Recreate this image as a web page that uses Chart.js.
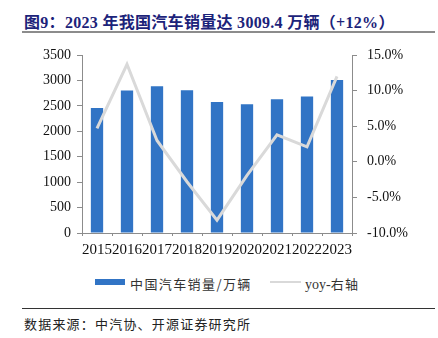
<!DOCTYPE html>
<html lang="zh">
<head>
<meta charset="UTF-8" />
<title>2023 年我国汽车销量</title>
<script src="https://cdn.jsdelivr.net/npm/chart.js"></script>
<style>
  body { margin: 0; width: 438px; height: 338px; background: #fff; position: relative; overflow: hidden; }
  .title { position: absolute; left: 24px; top: 9px; font: bold 16px "Liberation Serif", "Noto Sans CJK SC", serif; letter-spacing: 0.3px; color: #1c237a; white-space: nowrap; }
  .rule-top { position: absolute; left: 22px; top: 31px; width: 413px; height: 2px; background: #8c8c8c; }
  .rule-bottom { position: absolute; left: 22px; top: 308px; width: 413px; height: 1px; background: #333; }
  .source { position: absolute; left: 24px; top: 314px; font: 13px "Noto Sans CJK SC", sans-serif; letter-spacing: 1.2px; color: #222; white-space: nowrap; }
  #chart { position: absolute; left: 0; top: 0; }
  .legend { position: absolute; top: 274px; font: 13px "Noto Sans CJK SC", sans-serif; letter-spacing: 1.4px; color: #333; white-space: nowrap; }
  .swatch { position: absolute; }
</style>
</head>
<body>
  <div class="title">图9：2023 年我国汽车销量达 3009.4 万辆（+12%）</div>
  <div class="rule-top"></div>

  <canvas id="chart" width="438" height="272"></canvas>

  <div class="swatch" style="left:95px; top:279px; width:30px; height:6px; background:#3174c5;"></div>
  <div class="legend" style="left:130px;">中国汽车销量/万辆</div>
  <div class="swatch" style="left:270px; top:281px; width:31px; height:2px; background:#d9d9d9;"></div>
  <div class="legend" style="left:305px;"><span style="font-family:'Liberation Serif',serif; font-size:14px; letter-spacing:0;">yoy-</span>右轴</div>

  <div class="rule-bottom"></div>
  <div class="source">数据来源：中汽协、开源证券研究所</div>

<script>
  const years = ['2015', '2016', '2017', '2018', '2019', '2020', '2021', '2022', '2023'];
  const sales = [2459.8, 2802.8, 2887.9, 2808.1, 2576.9, 2531.1, 2627.5, 2686.4, 3009.4];
  const yoy = [4.7, 13.7, 3.0, -2.8, -8.2, -1.9, 3.8, 2.1, 12.0];

  const tickFont = { family: 'Liberation Serif', size: 14 };
  const axisGray = '#8c8c8c';

  new Chart(document.getElementById('chart'), {
    type: 'bar',
    data: {
      labels: years,
      datasets: [
        {
          label: '中国汽车销量/万辆',
          data: sales,
          backgroundColor: '#3174c5',
          barPercentage: 0.41,
          categoryPercentage: 1,
          yAxisID: 'y',
          order: 2
        },
        {
          type: 'line',
          label: 'yoy-右轴',
          data: yoy,
          borderColor: '#d9d9d9',
          borderWidth: 3,
          pointRadius: 0,
          tension: 0,
          fill: false,
          yAxisID: 'y1',
          order: 1
        }
      ]
    },
    options: {
      responsive: false,
      devicePixelRatio: 1,
      animation: false,
      layout: { padding: { top: 55, left: 0, right: 0, bottom: 0 } },
      plugins: {
        legend: { display: false },
        tooltip: { enabled: false }
      },
      scales: {
        x: {
          afterFit: s => { s.height = 39; },
          grid: { drawOnChartArea: false, tickLength: 3, color: axisGray },
          border: { color: axisGray },
          ticks: { font: { family: 'Liberation Serif', size: 15 }, color: '#111', padding: 5, maxRotation: 0, autoSkip: false }
        },
        y: {
          position: 'left',
          min: 0,
          max: 3500,
          afterFit: s => { s.width = 82; },
          grid: { drawOnChartArea: false, tickLength: 5, color: axisGray },
          border: { color: axisGray },
          ticks: { stepSize: 500, font: tickFont, color: '#111', padding: 6, callback: v => String(v) }
        },
        y1: {
          position: 'right',
          min: -10,
          max: 15,
          afterFit: s => { s.width = 86; },
          grid: { drawOnChartArea: false, tickLength: 5, color: axisGray },
          border: { color: axisGray },
          ticks: {
            stepSize: 5,
            font: tickFont,
            color: '#111',
            padding: 10,
            callback: v => v.toFixed(1) + '%'
          }
        }
      }
    }
  });
</script>
</body>
</html>
